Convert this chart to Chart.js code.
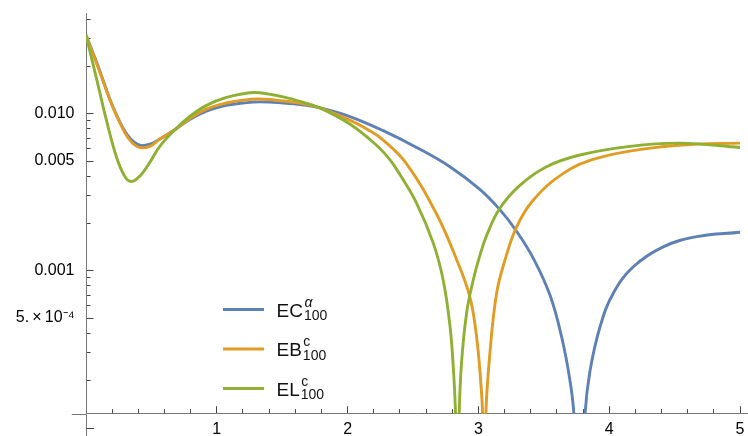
<!DOCTYPE html>
<html>
<head>
<meta charset="utf-8">
<script src="https://cdn.jsdelivr.net/npm/chart.js@4.4.1/dist/chart.umd.min.js"></script>
<style>
  html, body { margin: 0; padding: 0; background: #fff; }
  #chart { display: block; }
</style>
</head>
<body>
<canvas id="chart" width="748" height="436"></canvas>
<script>
// values (log scale on y)
const ecX = [0, 0.105, 0.182, 0.258, 0.335, 0.411, 0.488, 0.564, 0.679, 0.793, 0.921, 1.074, 1.2, 1.33, 1.507, 1.65, 1.788, 2.017, 2.272, 2.527, 2.782, 3.011, 3.164, 3.293, 3.42, 3.547, 3.636, 3.7, 3.73, 3.772, 3.815, 3.853, 3.93, 4.031, 4.184, 4.413, 4.669, 5.0];
const ecY = [0.0317, 0.0188, 0.0124, 0.0089, 0.0070, 0.0063, 0.0064, 0.0069, 0.0079, 0.0092, 0.0104, 0.0113, 0.0117, 0.0119, 0.0117, 0.0114, 0.0109, 0.0096, 0.0078, 0.0061, 0.0046, 0.0033, 0.00245, 0.00178, 0.0012, 0.0007, 0.00038, 0.0002, 0.000122, 0.00002, 0.000122, 0.00023, 0.00044, 0.00072, 0.00106, 0.00142, 0.00165, 0.00176];

const ebX = [0, 0.105, 0.182, 0.258, 0.335, 0.411, 0.488, 0.564, 0.679, 0.793, 0.921, 1.074, 1.2, 1.33, 1.507, 1.65, 1.788, 2.017, 2.157, 2.272, 2.451, 2.68, 2.833, 2.935, 2.986, 3.017, 3.032, 3.045, 3.057, 3.088, 3.139, 3.203, 3.293, 3.42, 3.649, 3.904, 4.286, 4.669, 5.0];
const ebY = [0.0317, 0.0185, 0.0123, 0.0088, 0.0068, 0.0061, 0.0062, 0.0069, 0.0079, 0.0093, 0.0107, 0.0117, 0.0122, 0.0124, 0.01205, 0.0116, 0.0109, 0.0091, 0.0079, 0.0068, 0.0048, 0.0023, 0.00118, 0.00068, 0.00038, 0.0002, 0.000122, 0.00002, 0.000122, 0.0003, 0.00072, 0.00117, 0.00191, 0.00282, 0.00417, 0.0052, 0.006, 0.0064, 0.0065];

const elX = [0, 0.08, 0.156, 0.233, 0.296, 0.348, 0.411, 0.488, 0.564, 0.679, 0.793, 0.921, 1.074, 1.252, 1.33, 1.507, 1.65, 1.788, 2.017, 2.221, 2.323, 2.4, 2.527, 2.655, 2.731, 2.782, 2.807, 2.825, 2.839, 2.853, 2.871, 2.91, 2.96, 3.011, 3.063, 3.164, 3.317, 3.521, 3.776, 4.159, 4.541, 5.0];
const elY = [0.0317, 0.0168, 0.0091, 0.0053, 0.0040, 0.0037, 0.0040, 0.0049, 0.0062, 0.0079, 0.0096, 0.0113, 0.0127, 0.0136, 0.0136, 0.0128, 0.0119, 0.0109, 0.0086, 0.0063, 0.0051, 0.0041, 0.0027, 0.0015, 0.00087, 0.00045, 0.00025, 0.000122, 0.00002, 0.000122, 0.00026, 0.00054, 0.00087, 0.00125, 0.00168, 0.0025, 0.0035, 0.0046, 0.00546, 0.0062, 0.0065, 0.0061];

const seriesNames = ["EC", "EB", "EL"];
const seriesSup = ["α", "c", "c"];
const seriesSub = ["100", "100", "100"];
const seriesColors = ["#5e81b5", "#e19c24", "#8fb032"];

// axis ticks
const xMajorTicks = [1, 2, 3, 4, 5];
const xMinorTicks = [0.2, 0.4, 0.6, 0.8, 1.2, 1.4, 1.6, 1.8, 2.2, 2.4, 2.6, 2.8, 3.2, 3.4, 3.6, 3.8, 4.2, 4.4, 4.6, 4.8];
const yMajorTicks = [0.0005, 0.001, 0.005, 0.01];
const yMajorLabels = ["5.\u2009×\u200910⁻⁴", "0.001", "0.005", "0.010"];
const yMinorTicks = [0.0002, 0.0003, 0.0004, 0.0006, 0.0007, 0.0008, 0.0009, 0.002, 0.003, 0.004, 0.006, 0.007, 0.008, 0.009, 0.02, 0.03, 0.04];
const yBelowTick = 0.0001;

// plot range
const xMin = 0, xMax = 5.061, xAxisFrom = -0.109;
const yMin = 0.000123, yMax = 0.0438, yAxisTo = 0.0000885;

const axisColor = "#777777";
const tickColor = "#444444";
const fontFamily = "'Liberation Sans', Arial, sans-serif";

function toPoints(xs, ys) {
    return xs.map((x, i) => ({ x: x, y: ys[i] }));
}

function setTicks(values) {
    return (scale) => {
        scale.ticks = values.map((v) => ({ value: v }));
    };
}

function fixSize(w, h) {
    return (s) => {
        if (w !== null) s.width = w;
        if (h !== null) s.height = h;
        s.paddingLeft = 0;
        s.paddingRight = 0;
        s.paddingTop = 0;
        s.paddingBottom = 0;
    };
}

// axis line extensions below / left of the plot range + 1e-4 tick
const axisExtras = {
    id: "axisExtras",
    afterDraw(chart) {
        const ctx = chart.ctx;
        const area = chart.chartArea;
        const xs = chart.scales.x;
        const ys = chart.scales.y;
        const by = Math.round(area.bottom) + 0.5;
        const lx = Math.round(area.left) + 0.5;
        ctx.save();
        ctx.lineWidth = 1;
        ctx.strokeStyle = axisColor;
        ctx.beginPath();
        ctx.moveTo(xs.getPixelForValue(xAxisFrom), by);
        ctx.lineTo(lx, by);
        ctx.moveTo(lx, by);
        ctx.lineTo(lx, ys.getPixelForValue(yAxisTo));
        ctx.stroke();
        const ty = Math.round(ys.getPixelForValue(yBelowTick)) + 0.5;
        ctx.strokeStyle = tickColor;
        ctx.beginPath();
        ctx.moveTo(lx, ty);
        ctx.lineTo(lx + 7.5, ty);
        ctx.stroke();
        ctx.restore();
    },
};

// legend with sub- and superscripts
const legendBox = { x: 223, y: 309.5, gap: 39.5, lineLen: 41 };
const legendPlugin = {
    id: "subLegend",
    afterDraw(chart) {
        const ctx = chart.ctx;
        ctx.save();
        for (let i = 0; i < seriesNames.length; i++) {
            const y = legendBox.y + i * legendBox.gap;
            ctx.strokeStyle = seriesColors[i];
            ctx.lineWidth = 3;
            ctx.beginPath();
            ctx.moveTo(legendBox.x, y);
            ctx.lineTo(legendBox.x + legendBox.lineLen, y);
            ctx.stroke();

            const tx = legendBox.x + legendBox.lineLen + 12.5;
            ctx.fillStyle = "#111";
            ctx.textAlign = "left";
            ctx.textBaseline = "alphabetic";
            ctx.font = "19px " + fontFamily;
            ctx.fillText(seriesNames[i], tx, y + 7.4);
            const w = ctx.measureText(seriesNames[i]).width;
            ctx.font = "14px " + fontFamily;
            ctx.fillText(seriesSub[i], tx + w + 1, y + 10.8);
            ctx.font = (seriesSup[i] === "α" ? "italic " : "") + "14px " + fontFamily;
            ctx.fillText(seriesSup[i], tx + w + 1.5, y - 2.6);
        }
        ctx.restore();
    },
};

const datasets = [
    { label: "EC", data: toPoints(ecX, ecY), borderColor: seriesColors[0], order: 3 },
    { label: "EB", data: toPoints(ebX, ebY), borderColor: seriesColors[1], order: 2 },
    { label: "EL", data: toPoints(elX, elY), borderColor: seriesColors[2], order: 1 },
].map((d) => Object.assign(d, {
    borderWidth: 2.9,
    pointRadius: 0,
    fill: false,
    tension: 0.4,
    capBezierPoints: false,
    borderCapStyle: "butt",
    borderJoinStyle: "round",
    xAxisID: "x",
    yAxisID: "y",
}));

new Chart(document.getElementById("chart"), {
    type: "line",
    data: { datasets: datasets },
    options: {
        responsive: false,
        animation: false,
        devicePixelRatio: 1,
        events: [],
        layout: { padding: { top: 13, left: 0, right: 0, bottom: 0 } },
        plugins: { legend: { display: false }, tooltip: { enabled: false } },
        scales: {
            x: {
                type: "linear",
                position: "bottom",
                min: xMin,
                max: xMax,
                weight: 1,
                afterBuildTicks: setTicks(xMajorTicks),
                afterFit: fixSize(null, 22.3),
                border: { display: true, color: axisColor, width: 1 },
                grid: { drawOnChartArea: false, tickLength: -7.5, tickColor: tickColor, tickWidth: 1 },
                ticks: {
                    autoSkip: false,
                    maxRotation: 0,
                    padding: 13.7,
                    color: "#000",
                    font: { family: fontFamily, size: 16 },
                    callback: (v) => String(v),
                },
            },
            x2: {
                type: "linear",
                position: "bottom",
                min: xMin,
                max: xMax,
                weight: 0,
                afterBuildTicks: setTicks(xMinorTicks),
                afterFit: fixSize(null, 0),
                border: { display: false },
                grid: { drawOnChartArea: false, tickLength: -4.5, tickColor: tickColor, tickWidth: 1 },
                ticks: { display: false },
            },
            y: {
                type: "logarithmic",
                position: "left",
                min: yMin,
                max: yMax,
                weight: 1,
                afterBuildTicks: setTicks(yMajorTicks),
                afterFit: fixSize(86, null),
                border: { display: true, color: axisColor, width: 1 },
                grid: { drawOnChartArea: false, tickLength: -7.5, tickColor: tickColor, tickWidth: 1 },
                ticks: {
                    autoSkip: false,
                    padding: 19,
                    color: "#000",
                    font: { family: fontFamily, size: 16 },
                    callback: (v) => {
                        const k = yMajorTicks.indexOf(v);
                        return k >= 0 ? yMajorLabels[k] : "";
                    },
                },
            },
            y2: {
                type: "logarithmic",
                position: "left",
                min: yMin,
                max: yMax,
                weight: 0,
                afterBuildTicks: setTicks(yMinorTicks),
                afterFit: fixSize(0, null),
                border: { display: false },
                grid: { drawOnChartArea: false, tickLength: -4.5, tickColor: tickColor, tickWidth: 1 },
                ticks: { display: false },
            },
        },
    },
    plugins: [axisExtras, legendPlugin],
});
</script>
</body>
</html>
